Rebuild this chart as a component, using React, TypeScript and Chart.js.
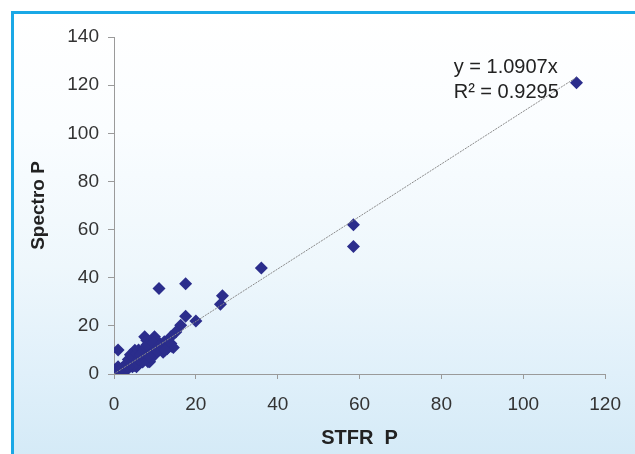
import React, { useEffect, useRef } from "react";
import { Chart, registerables } from "chart.js";

Chart.register(...registerables);

const stfrP: number[] = [
  113, 58.5, 58.5, 36, 26.5, 26, 11, 17.5,
  17.5, 20, 16.3, 15.1, 13.9,
  7.5, 9.9, 12.3, 13.9, 14.5,
  1, 5.1, 6.7, 8.3, 10.7, 9.1, 7.5, 5.9, 4.3, 2.7, 1, 0.2, 0, 9.9, 8.3,
  3, 2, 0.5, 4, 6, 7, 8, 10, 11, 12, 9, 6, 5, 3.5, 8, 10, 11, 12, 4, 5.5, 1.5, 6, 8.7, 5.5,
  14, 13, 12, 10, 9, 7, 6, 4.5, 3, 2, 7, 8, 9.5, 11, 13, 3.5, 6.5, 10.5, 12.5, 8.5,
];
const spectroP: number[] = [
  121, 62, 53, 44, 32.5, 29, 35.5, 37.5,
  24, 22, 20.3, 17.5, 15.5,
  15.5, 15.5, 13.4, 12.7, 11,
  10, 9.9, 9.2, 11.3, 10.6, 7.9, 6.5, 5.8, 5.1, 3.7, 3, 1.7, 0, 7.9, 5.1,
  2, 1, 0.5, 4, 7, 8, 9, 12, 13, 12, 10, 4, 3.5, 6, 14, 14.5, 10, 9, 8, 8.5, 1, 10, 5.1, 3,
  11.5, 10.5, 11, 8.5, 6.5, 5, 6, 3, 1.5, 2.5, 10, 12, 13, 11.5, 13, 3, 8, 9.5, 10, 7.5,
];
const xTicks: number[] = [0, 20, 40, 60, 80, 100, 120];
const yTicks: number[] = [0, 20, 40, 60, 80, 100, 120, 140];
const trendSlope = 1.0907;
const trendX: number[] = [0, 113];
const equationLines: string[] = ["y = 1.0907x", "R\u00B2 = 0.9295"];
const xTitle = "STFR  P";
const yTitle = "Spectro P";

const FONT = "'Liberation Sans', Arial, sans-serif";

export default function App() {
  const ref = useRef<HTMLCanvasElement | null>(null);

  useEffect(() => {
    if (!ref.current) return;
    const eqPlugin = {
      id: "eqText",
      afterDatasetsDraw(chart: any) {
        const { ctx, scales } = chart;
        ctx.save();
        ctx.font = `20px ${FONT}`;
        ctx.fillStyle = "#222";
        ctx.textAlign = "left";
        ctx.textBaseline = "middle";
        const x = scales.x.getPixelForValue(83);
        ctx.fillText(equationLines[0], x, scales.y.getPixelForValue(127.2));
        ctx.fillText(equationLines[1], x, scales.y.getPixelForValue(116.8));
        ctx.restore();
      },
    };
    const chart = new Chart(ref.current, {
      type: "scatter",
      data: {
        datasets: [
          {
            type: "line",
            data: trendX.map((x) => ({ x, y: x * trendSlope })),
            borderColor: "#8a8a8a",
            borderWidth: 1,
            borderDash: [2, 1],
            pointRadius: 0,
            fill: false,
          } as any,
          {
            data: stfrP.map((x, i) => ({ x, y: spectroP[i] })),
            pointStyle: "rectRot",
            pointRadius: 6.5,
            backgroundColor: "#2b2d8c",
            borderColor: "#2b2d8c",
            borderWidth: 0,
          },
        ],
      },
      options: {
        animation: false,
        responsive: false,
        maintainAspectRatio: false,
        layout: { padding: { left: 0, top: 37, right: 24, bottom: 0 } },
        plugins: { legend: { display: false }, tooltip: { enabled: false } },
        scales: {
          x: {
            type: "linear",
            min: 0,
            max: 120,
            afterBuildTicks: (s: any) => {
              s.ticks = xTicks.map((v) => ({ value: v }));
            },
            ticks: {
              color: "#333",
              font: { family: FONT, size: 19 },
              padding: 14,
            },
            grid: { drawOnChartArea: false, drawTicks: true, tickLength: 5, color: "#9a9a9a" },
            border: { color: "#9a9a9a" },
            title: {
              display: true,
              text: xTitle,
              color: "#222",
              font: { family: FONT, size: 20, weight: "bold" },
              padding: { top: 4, bottom: 4 },
            },
            afterFit: (s: any) => {
              s.height = 80;
            },
          },
          y: {
            type: "linear",
            min: 0,
            max: 140,
            afterBuildTicks: (s: any) => {
              s.ticks = yTicks.map((v) => ({ value: v }));
            },
            ticks: {
              color: "#333",
              font: { family: FONT, size: 19 },
              padding: 9,
            },
            grid: { drawOnChartArea: false, drawTicks: true, tickLength: 6, color: "#9a9a9a" },
            border: { color: "#9a9a9a" },
            title: {
              display: true,
              text: yTitle,
              color: "#222",
              font: { family: FONT, size: 19, weight: "bold" },
              padding: { top: 27, bottom: 27 },
            },
            afterFit: (s: any) => {
              s.width = 114;
            },
          },
        },
      } as any,
      plugins: [eqPlugin],
    });
    return () => chart.destroy();
  }, []);

  return (
    <div
      style={{
        position: "fixed",
        left: 0,
        top: 0,
        width: 635,
        height: 454,
        background: "#ffffff",
        overflow: "hidden",
      }}
    >
      <div
        style={{
          position: "absolute",
          left: 11,
          top: 11,
          width: 640,
          height: 460,
          borderTop: "3px solid #1aa8e6",
          borderLeft: "3px solid #1aa8e6",
          background:
            "linear-gradient(to bottom, #ffffff 0%, #fafdff 25%, #eef7fc 55%, #e0f0fa 78%, #d2e9f6 100%)",
        }}
      />
      <canvas
        ref={ref}
        width={635}
        height={454}
        style={{ position: "absolute", left: 0, top: 0, width: 635, height: 454 }}
      />
    </div>
  );
}
